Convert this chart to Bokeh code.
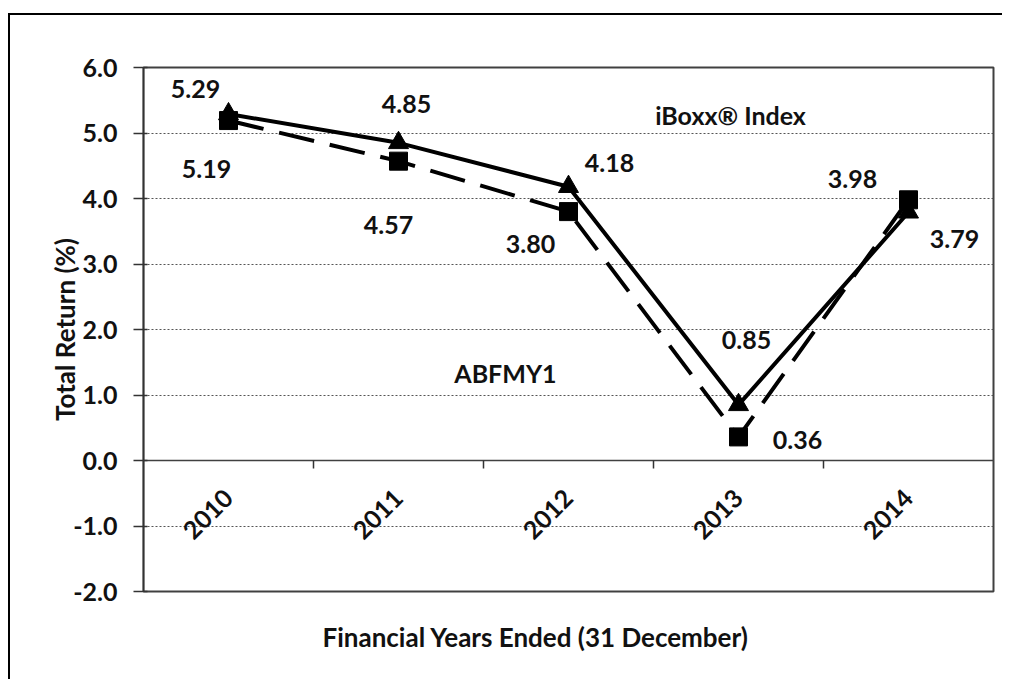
from math import pi

from bokeh.plotting import figure
from bokeh.core.properties import value
from bokeh.models import (Range1d, LinearAxis, FixedTicker, Title,
                          NumeralTickFormatter, ColumnDataSource, LabelSet, Label)
from bokeh.embed import file_html
from bokeh.resources import INLINE

# ---- data ----
years = ["2010", "2011", "2012", "2013", "2014"]
iboxx = [5.29, 4.85, 4.18, 0.85, 3.79]
abfmy1 = [5.19, 4.57, 3.80, 0.36, 3.98]
y_ticks = [-2, -1, 0, 1, 2, 3, 4, 5, 6]
series_names = ["iBoxx® Index", "ABFMY1"]
x_title = "Financial Years Ended (31 December)"
y_title = "Total Return (%)"

# label offsets in screen pixels (styling)
iboxx_dx = [-33, 8, 41, 8, 46]
iboxx_dy = [25, 39, 24, 65, -27]
abf_dx = [-22, -10, -38, 59, -56]
abf_dy = [-48, -64, -32, -3, 21]

FONT = "Lato"
INK = "#111111"
FS = "25px"

# category slots: one unit per year, marks at slot centres
xc = [i + 0.5 for i in range(len(years))]
bounds = list(range(1, len(years)))

p = figure(x_range=Range1d(0, len(years)), y_range=Range1d(-2, 6),
           frame_width=850, frame_height=524,
           min_border_left=133, min_border_top=52, min_border_right=9, min_border_bottom=87,
           output_backend="svg", toolbar_location=None, x_axis_location=None)
p.styles = {"border-top": "2px solid black", "border-left": "2px solid black",
            "margin-top": "13px", "margin-left": "8px"}
p.background_fill_color = "white"
p.border_fill_color = "white"
p.outline_line_color = "#404040"
p.outline_line_width = 2

# y axis
yax = p.yaxis[0]
yax.ticker = FixedTicker(ticks=y_ticks)
yax.formatter = NumeralTickFormatter(format="0.0")
yax.major_tick_out = 10
yax.major_tick_in = 4
yax.major_tick_line_color = "#333333"
yax.major_tick_line_width = 1.5
yax.minor_tick_line_color = None
yax.axis_line_color = "#333333"
yax.axis_line_width = 1.5
yax.major_label_standoff = 16
yax.major_label_text_font = FONT
yax.major_label_text_font_size = FS
yax.major_label_text_font_style = "bold"
yax.major_label_text_color = INK
yax.axis_label = y_title
yax.axis_label_text_font = FONT
yax.axis_label_text_font_size = "26px"
yax.axis_label_text_font_style = "bold"
yax.axis_label_text_color = INK
yax.axis_label_standoff = -11

p.xgrid.visible = False
p.ygrid.ticker = FixedTicker(ticks=y_ticks)
p.ygrid.grid_line_color = "#555555"
p.ygrid.grid_line_dash = "2 2"
p.ygrid.grid_line_width = 1

# x axis at y = 0 with year labels at slot centres
xax = LinearAxis(fixed_location=0, ticker=FixedTicker(ticks=xc),
                 major_label_overrides={c: y for c, y in zip(xc, years)},
                 major_label_orientation=pi / 4,
                 major_tick_line_color=None, minor_tick_line_color=None,
                 axis_line_color="#404040", axis_line_width=1.5,
                 major_label_standoff=27,
                 major_label_text_font=FONT, major_label_text_font_size=FS,
                 major_label_text_font_style="bold", major_label_text_color=INK)
p.add_layout(xax, "below")

# tick marks between categories
bax = LinearAxis(fixed_location=0, ticker=FixedTicker(ticks=bounds),
                 major_label_overrides={b: "" for b in bounds},
                 major_tick_out=8, major_tick_in=0,
                 major_tick_line_color="#333333", major_tick_line_width=1.5,
                 minor_tick_line_color=None, axis_line_color=None)
p.add_layout(bax, "below")

# x title
p.add_layout(Title(text=x_title, align="left", offset=179, standoff=54,
                   text_font=FONT, text_font_size="26px", text_font_style="bold", text_color=INK),
             "below")

# series
p.line(xc, abfmy1, line_color="black", line_width=4, line_dash="36 16")
p.line(xc, iboxx, line_color="black", line_width=4)
p.scatter(xc, iboxx, marker="triangle", size=20, color="black")
p.scatter(xc, abfmy1, marker="square", size=18, color="black")

# data labels
src_i = ColumnDataSource(dict(x=xc, y=iboxx, t=[f"{v:.2f}" for v in iboxx], dx=iboxx_dx, dy=iboxx_dy))
src_a = ColumnDataSource(dict(x=xc, y=abfmy1, t=[f"{v:.2f}" for v in abfmy1], dx=abf_dx, dy=abf_dy))
for src in (src_i, src_a):
    p.add_layout(LabelSet(x="x", y="y", text="t", x_offset="dx", y_offset="dy", source=src,
                          text_align="center", text_baseline="middle",
                          text_font=value(FONT), text_font_size=value(FS),
                          text_font_style=value("bold"), text_color=INK))

# series names
p.add_layout(Label(x=3.453, y=5.27, text=series_names[0], text_align="center", text_baseline="middle",
                   text_font=FONT, text_font_size=FS, text_font_style="bold", text_color=INK))
p.add_layout(Label(x=2.129, y=1.33, text=series_names[1], text_align="center", text_baseline="middle",
                   text_font=FONT, text_font_size=FS, text_font_style="bold", text_color=INK))

open("out.html", "w").write(file_html(p, INLINE))
